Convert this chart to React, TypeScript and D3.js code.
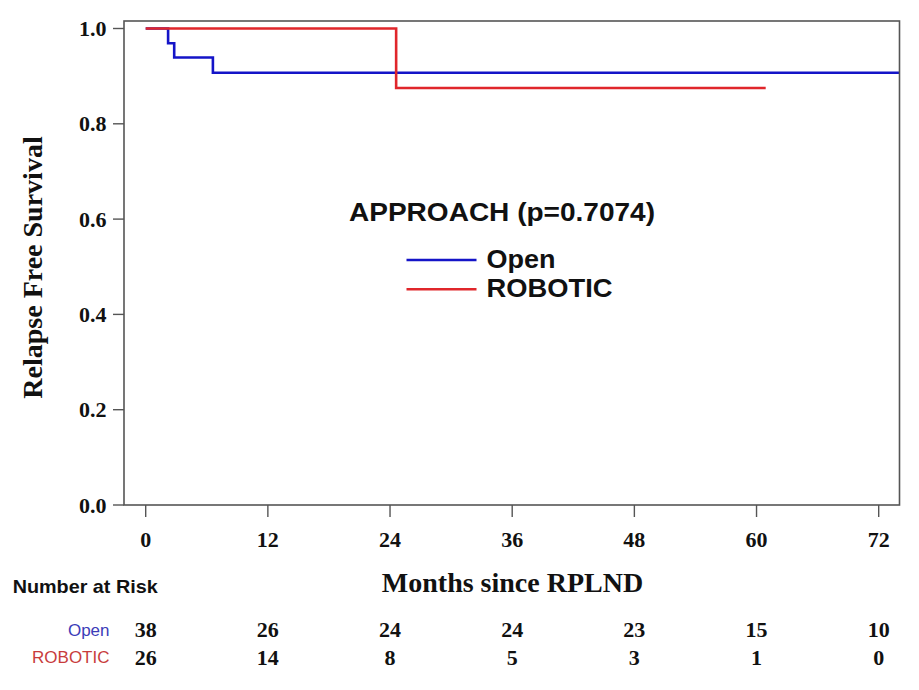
import React from "react";
import * as d3 from "d3";

// ---- data ----
const xTicks = [0, 12, 24, 36, 48, 60, 72];
const yTicks = [0, 0.2, 0.4, 0.6, 0.8, 1.0];
const openTimes = [0, 2.2, 2.8, 6.6, 80];
const openSurv = [1.0, 0.969, 0.939, 0.907, 0.907];
const roboticTimes = [0, 24.6, 60.9];
const roboticSurv = [1.0, 0.875, 0.875];
const riskOpen = [38, 26, 24, 24, 23, 15, 10];
const riskRobotic = [26, 14, 8, 5, 3, 1, 0];
const groupNames = ["Open", "ROBOTIC"];
const legendTitle = "APPROACH (p=0.7074)";
const xTitle = "Months since RPLND";
const yTitle = "Relapse Free Survival";

const W = 919;
const H = 690;
const frame = { left: 124, top: 21, right: 899.5, bottom: 505 };
const lineColors = ["#1414c8", "#e0262b"];
const riskColors = ["#3c3cb8", "#c83c3c"];
const serif = "'Liberation Serif', 'Times New Roman', serif";
const sans = "'Liberation Sans', Arial, sans-serif";

export default function App() {
  const x = d3.scaleLinear().domain([0, 72]).range([145.7, 878.7]);
  const y = d3.scaleLinear().domain([0, 1]).range([505, 28.5]);
  const line = d3
    .line<[number, number]>()
    .x((d) => x(d[0]))
    .y((d) => y(d[1]))
    .curve(d3.curveStepAfter);
  const openPts = openTimes.map((t, i) => [t, openSurv[i]] as [number, number]);
  const robPts = roboticTimes.map((t, i) => [t, roboticSurv[i]] as [number, number]);

  return (
    <svg
      width={W}
      height={H}
      style={{ position: "absolute", left: 0, top: 0, background: "#fff" }}
    >
      <defs>
        <clipPath id="plotclip">
          <rect
            x={frame.left}
            y={frame.top}
            width={frame.right - frame.left}
            height={frame.bottom - frame.top}
          />
        </clipPath>
      </defs>
      <rect x={0} y={0} width={W} height={H} fill="#fff" />
      {/* curves */}
      <g clipPath="url(#plotclip)">
        <path d={line(openPts) || ""} fill="none" stroke={lineColors[0]} strokeWidth={2.6} />
        <path d={line(robPts) || ""} fill="none" stroke={lineColors[1]} strokeWidth={2.6} />
      </g>
      {/* frame */}
      <rect
        x={frame.left}
        y={frame.top}
        width={frame.right - frame.left}
        height={frame.bottom - frame.top}
        fill="none"
        stroke="#555"
        strokeWidth={1.6}
      />
      {/* y ticks */}
      {yTicks.map((t) => (
        <g key={"y" + t}>
          <line x1={113} x2={frame.left} y1={y(t)} y2={y(t)} stroke="#555" strokeWidth={1.4} />
          <text
            x={106.5}
            y={y(t) + 7.5}
            textAnchor="end"
            fontFamily={serif}
            fontWeight="bold"
            fontSize={22}
            fill="#111"
          >
            {t.toFixed(1)}
          </text>
        </g>
      ))}
      {/* x ticks */}
      {xTicks.map((t) => (
        <g key={"x" + t}>
          <line x1={x(t)} x2={x(t)} y1={frame.bottom} y2={517} stroke="#555" strokeWidth={1.4} />
          <text
            x={x(t)}
            y={546.5}
            textAnchor="middle"
            fontFamily={serif}
            fontWeight="bold"
            fontSize={22}
            fill="#111"
          >
            {t}
          </text>
        </g>
      ))}
      {/* axis titles */}
      <text
        x={512.5}
        y={592}
        textAnchor="middle"
        fontFamily={serif}
        fontWeight="bold"
        fontSize={28}
        fill="#111"
      >
        {xTitle}
      </text>
      <text
        transform={`translate(42,267.5) rotate(-90)`}
        textAnchor="middle"
        fontFamily={serif}
        fontWeight="bold"
        fontSize={28}
        fill="#111"
      >
        {yTitle}
      </text>
      {/* legend */}
      <text
        x={349}
        y={221}
        fontFamily={sans}
        fontWeight="bold"
        fontSize={26}
        fill="#111"
        textLength={306}
        lengthAdjust="spacingAndGlyphs"
      >
        {legendTitle}
      </text>
      {groupNames.map((g, i) => (
        <g key={g}>
          <line
            x1={406.5}
            x2={476.5}
            y1={260 + i * 29.3}
            y2={260 + i * 29.3}
            stroke={lineColors[i]}
            strokeWidth={2.6}
          />
          <text
            x={486.5}
            y={267.5 + i * 29.5}
            fontFamily={sans}
            fontWeight="bold"
            fontSize={25}
            fill="#111"
            textLength={i === 0 ? 69 : 126}
            lengthAdjust="spacingAndGlyphs"
          >
            {g}
          </text>
        </g>
      ))}
      {/* number at risk */}
      <text
        x={12.7}
        y={593.3}
        fontFamily={sans}
        fontWeight="bold"
        fontSize={19}
        fill="#111"
        textLength={145}
        lengthAdjust="spacingAndGlyphs"
      >
        Number at Risk
      </text>
      {[riskOpen, riskRobotic].map((row, r) => (
        <g key={"risk" + r}>
          <text
            x={109.5}
            y={r === 0 ? 635.7 : 663.3}
            textAnchor="end"
            fontFamily={sans}
            fontSize={17}
            fill={riskColors[r]}
          >
            {groupNames[r]}
          </text>
          {row.map((v, i) => (
            <text
              key={i}
              x={x(xTicks[i])}
              y={r === 0 ? 636.7 : 665}
              textAnchor="middle"
              fontFamily={serif}
              fontWeight="bold"
              fontSize={22}
              fill="#111"
            >
              {v}
            </text>
          ))}
        </g>
      ))}
    </svg>
  );
}
